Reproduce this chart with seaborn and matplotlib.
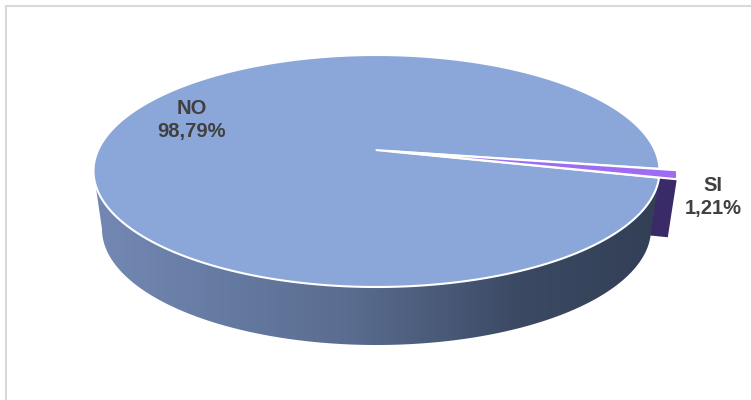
import numpy as np
import matplotlib
matplotlib.use("Agg")
import matplotlib.pyplot as plt
import seaborn as sns
from matplotlib.patches import Polygon
from matplotlib.colors import LinearSegmentedColormap
from matplotlib.lines import Line2D

# ---- data ----
categories = ["NO", "SI"]
values = [98.79, 1.21]
pct_labels = ["98,79%", "1,21%"]

sns.set_theme(style="white")
plt.rcParams['font.family'] = ['Liberation Sans', 'DejaVu Sans']

W, H = 751, 400
fig = plt.figure(figsize=(7.51, 4.0), dpi=100)
ax = fig.add_axes([0, 0, 1, 1])

# ellipse geometry in pixels (for the 3-D look)
cx, cy, A, B = 376.5, 171.0, 283.0, 116.0
depth = 0.5
bottom_scale = 0.97
persp = 0.18          # perspective: apex drawn above the ellipse centre
start = -9.3
explode = [0.0, 0.06]

top_colors = ["#8ba7d9", "#9d6cf3"]
si_side_color = "#3b2a68"


def project(x, y):
    """perspective map of the unit disc onto the screen ellipse"""
    d = 1 + persp * y
    return np.sqrt(1 - persp ** 2) * x / d, (y + persp) / d


# ---- pie computed by matplotlib (wedges used as geometry source) ----
wedges, _ = ax.pie(values, colors=top_colors, startangle=start, explode=explode,
                   radius=1, center=(0, 0), counterclock=True)
geo = []
for w in wedges:
    geo.append((w.theta1, w.theta2, w.center, w.r, w.get_facecolor()))
    w.set_visible(False)

# ---- SI side: radial cut face (drawn first, partially hidden) ----
t1, _, (ox, oy), rr, _ = geo[1]
t1r = np.deg2rad(t1)
r = np.linspace(0, rr, 60)
fx, fy = project(r * np.cos(t1r) + ox, r * np.sin(t1r) + oy)
face = np.vstack([np.c_[fx, fy], np.c_[fx * bottom_scale, fy - depth][::-1]])
ax.add_patch(Polygon(face, closed=True, facecolor=si_side_color,
                     edgecolor="none", zorder=1))

# ---- NO side with gradient ----
a0 = 180 + np.degrees(np.arcsin(persp))      # rim point on the screen's horizontal axis
th = np.deg2rad(np.linspace(a0, geo[0][1], 300))
sx, sy = project(np.cos(th), np.sin(th))
side = np.vstack([np.c_[sx, sy], np.c_[sx * bottom_scale, sy - depth][::-1]])
no_poly = Polygon(side, closed=True, facecolor="none", edgecolor="none", zorder=2)
ax.add_patch(no_poly)
cmap = LinearSegmentedColormap.from_list(
    "side", [(0, "#7389b4"), (0.45, "#5a6d90"), (0.75, "#3b4963"), (1, "#323f55")])
grad = np.linspace(0, 1, 512).reshape(1, -1)
im = ax.imshow(grad, extent=[-1.01, 1.01, -1.6, 0.1], aspect="auto",
               cmap=cmap, zorder=2, interpolation="bilinear")
im.set_clip_path(no_poly)

# ---- top faces (projected wedges) ----
for (a1, a2, (wx, wy), wr, fc) in geo:
    ang = np.deg2rad(np.linspace(a1, a2, 400))
    px = np.concatenate([[wx], wx + wr * np.cos(ang)])
    py = np.concatenate([[wy], wy + wr * np.sin(ang)])
    X, Y = project(px, py)
    ax.add_patch(Polygon(np.c_[X, Y], closed=True, facecolor=fc,
                         edgecolor="white", linewidth=1.5, joinstyle="round", zorder=3))

ax.set_aspect("auto")
ax.set_xlim(-cx / A, (W - cx) / A)
ax.set_ylim(-(H - cy) / B, cy / B)
ax.axis("off")

# ---- labels ----
lab_pos = [((192 - cx) / A, (cy - 120) / B), ((713 - cx) / A, (cy - 197) / B)]
for cat, pct, (lx, ly) in zip(categories, pct_labels, lab_pos):
    ax.text(lx, ly, f"{cat}\n{pct}", ha="center", va="center", multialignment="center",
            fontsize=14.5, fontweight="bold", color="#404040", linespacing=1.25, zorder=5)

# ---- frame lines (top and left) ----
fig.add_artist(Line2D([6.5 / W, 1], [1 - 5.5 / H, 1 - 5.5 / H], color="#d9d9d9", lw=1.5))
fig.add_artist(Line2D([6.5 / W, 6.5 / W], [0, 1 - 5.5 / H], color="#d9d9d9", lw=1.5))

fig.savefig("out.png", dpi=100, facecolor="white")
